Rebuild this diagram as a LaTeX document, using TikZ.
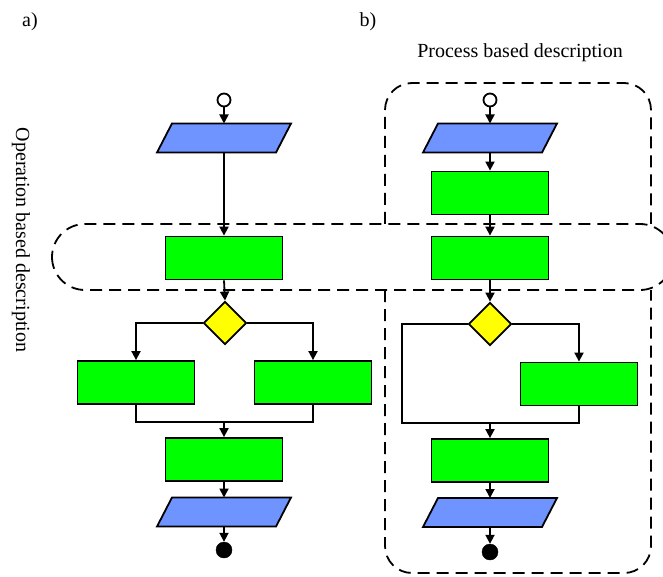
\documentclass[tikz,border=0pt]{standalone}
\usepackage{fontspec}
\setmainfont{Liberation Serif}
\usetikzlibrary{shapes.geometric,arrows.meta}
\definecolor{ioblue}{RGB}{112,148,255}
\definecolor{opgreen}{RGB}{0,255,0}
\definecolor{decyellow}{RGB}{255,255,0}
\tikzset{
  lw/.style={line width=1.8pt},
  iobox/.style={rectangle,minimum width=119pt,minimum height=29pt,inner sep=0pt,outer sep=0pt},
  iofill/.style={lw,draw,fill=ioblue,line join=miter},
  opbox/.style={lw,draw,fill=opgreen,rectangle,minimum width=117pt,minimum height=43pt,inner sep=0pt},
  decbox/.style={lw,draw,fill=decyellow,diamond,minimum width=43pt,minimum height=43pt,inner sep=0pt},
  startdot/.style={lw,draw,fill=white,circle,minimum size=13pt,inner sep=0pt},
  enddot/.style={draw,fill=black,circle,minimum size=16pt,inner sep=0pt},
  arr/.style={lw,-{Triangle[length=9pt,width=9pt]}},
  conn/.style={lw},
  region/.style={line width=1.8pt,dash pattern=on 12pt off 7pt},
  lbl/.style={font=\fontsize{20}{24}\selectfont,inner sep=0pt}
}
\newcommand{\parafill}[1]{%
  \draw[iofill] ([xshift=-7.5pt]#1.south west) -- ([xshift=-7.5pt]#1.south east)
    -- ([xshift=7.5pt]#1.north east) -- ([xshift=7.5pt]#1.north west) -- cycle;}
\begin{document}
\begin{tikzpicture}[x=1pt,y=-1pt]
\useasboundingbox (0,0) rectangle (663,577);
\clip (0,0) rectangle (663,577);
% labels
\node[lbl,anchor=base] (la) at (30,27) {a)};
\node[lbl,anchor=base] (lb) at (368,27) {b)};
\node[lbl,anchor=base] (lproc) at (520,58) {Process based description};
\node[lbl,rotate=-90] (lop) at (21,240) {Operation based description};
% dashed regions
\draw[region,rounded corners=33pt] (52,224) rectangle (673,290);
\draw[region,rounded corners=27pt] (385,224) -- (385,83) -- (651,83) -- (651,224);
\draw[region,rounded corners=27pt] (385,290) -- (385,573) -- (651,573) -- (651,290);
% left column
\node[startdot] (s1) at (224,100) {};
\node[iobox] (p1) at (224,138) {};
\parafill{p1}
\node[opbox] (r0) at (224,258) {};
\node[decbox] (d1) at (225,323) {};
\node[opbox] (l1) at (136,382.5) {};
\node[opbox] (rr1) at (313,382.5) {};
\node[opbox] (r3) at (224,459.5) {};
\node[iobox] (p2) at (224,512) {};
\parafill{p2}
\node[enddot] (e1) at (224,550) {};
\coordinate (m1) at (224,422);
\draw[arr] (s1) -- (p1.north);
\draw[arr] (p1.south) -- (r0.north);
\draw[arr] (r0.south) -- (d1.north);
\draw[arr] (d1.west) -| (l1.north);
\draw[arr] (d1.east) -| (rr1.north);
\draw[conn] (l1.south) |- (m1) -| (rr1.south);
\draw[arr] (m1) -- (r3.north);
\draw[arr] (r3.south) -- (p2.north);
\draw[arr] (p2.south) -- (e1.north);
% right column
\node[startdot] (s2) at (490,100) {};
\node[iobox] (p3) at (490,138) {};
\parafill{p3}
\node[opbox] (q1) at (490,193) {};
\node[opbox] (q2) at (490,258) {};
\node[decbox] (d2) at (490,324) {};
\node[opbox] (rb) at (579,384) {};
\node[opbox] (q3) at (490,460.5) {};
\node[iobox] (p4) at (490,512.5) {};
\parafill{p4}
\node[enddot] (e2) at (490,552) {};
\coordinate (c2) at (402,423);
\coordinate (m2) at (490,423);
\draw[arr] (s2) -- (p3.north);
\draw[arr] (p3.south) -- (q1.north);
\draw[arr] (q1.south) -- (q2.north);
\draw[arr] (q2.south) -- (d2.north);
\draw[arr] (d2.east) -| (rb.north);
\draw[conn] (d2.west) -| (c2) -| (rb.south);
\draw[arr] (m2) -- (q3.north);
\draw[arr] (q3.south) -- (p4.north);
\draw[arr] (p4.south) -- (e2.north);
\end{tikzpicture}
\end{document}
